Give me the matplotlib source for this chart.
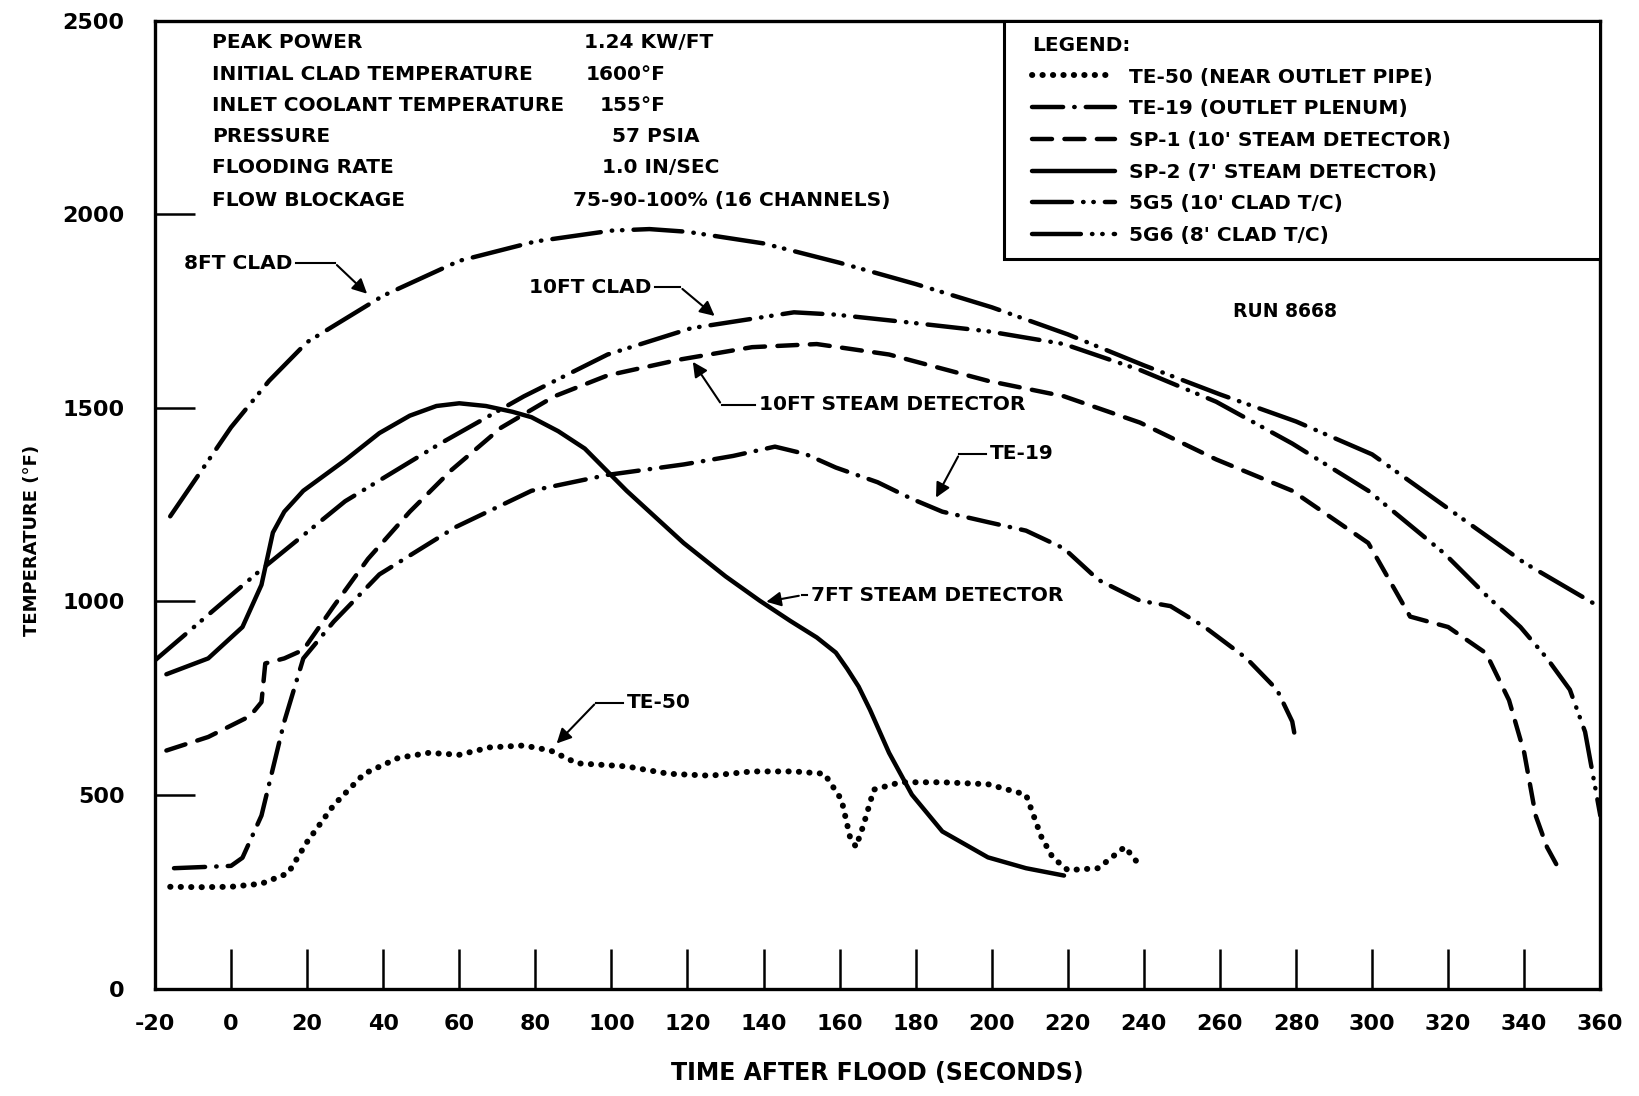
import matplotlib
matplotlib.use("Agg")
import matplotlib.pyplot as plt
from matplotlib.patches import Rectangle

plt.rcParams['font.family'] = ['DejaVu Sans']
plt.rcParams['font.weight'] = 'bold'
plt.rcParams['axes.unicode_minus'] = False

# ---- data (time s, temperature F) ----
te50_t = [-16, -8, 0, 8, 15, 20, 27, 35, 44, 52, 60, 68, 77, 84, 91, 104, 115, 126, 137, 148, 156, 160.5, 162.7, 164.3, 166.2, 169, 176, 187, 199, 209, 213, 216, 220, 228, 235, 239]
te50_T = [263, 262, 263, 271, 298, 379, 474, 555, 596, 609, 604, 623, 628, 615, 582, 574, 555, 550, 561, 561, 555, 488, 393, 366, 420, 514, 533, 533, 528, 501, 393, 339, 306, 311, 366, 317]

te19_t = [-15, 0, 3, 8, 14, 19, 27, 39, 59, 79, 99, 119, 132, 143, 151, 159, 170, 179, 187, 199, 209, 219, 228, 239, 247, 256, 267, 275, 279, 280]
te19_T = [311, 317, 338, 447, 690, 853, 948, 1070, 1192, 1286, 1327, 1354, 1376, 1400, 1381, 1346, 1308, 1265, 1232, 1205, 1183, 1137, 1056, 1002, 988, 934, 853, 772, 690, 636]

sp1_t = [-17, -6, 5, 8, 9, 14, 19, 27, 36, 47, 58, 71, 85, 99, 118, 137, 154, 173, 199, 219, 239, 259, 279, 299, 310, 320, 330, 336, 340, 343, 346, 349]
sp1_T = [615, 650, 704, 740, 840, 853, 875, 988, 1110, 1232, 1340, 1449, 1530, 1584, 1625, 1657, 1665, 1638, 1570, 1530, 1462, 1367, 1286, 1151, 961, 934, 866, 745, 609, 447, 365, 311]

sp2_t = [-17, -6, 3, 8, 11, 14, 19, 30, 39, 47, 54, 60, 67, 74, 79, 86, 93, 104, 119, 130, 139, 147, 154, 159, 162, 165, 168, 173, 179, 187, 199, 209, 219]
sp2_T = [812, 853, 934, 1043, 1178, 1232, 1286, 1365, 1435, 1480, 1505, 1512, 1505, 1490, 1476, 1440, 1395, 1286, 1151, 1065, 1002, 950, 907, 868, 826, 780, 720, 609, 501, 406, 339, 311, 292]

g5_t = [-20, 8, 30, 55, 77, 99, 121, 148, 159, 179, 199, 219, 239, 259, 279, 299, 319, 330, 339, 346, 352, 356, 358, 360]
g5_T = [848, 1083, 1259, 1408, 1530, 1638, 1706, 1747, 1741, 1720, 1698, 1665, 1598, 1516, 1408, 1286, 1124, 1016, 934, 853, 772, 663, 555, 447]

g6_t = [-16, 0, 10, 20, 40, 60, 80, 100, 110, 120, 140, 160, 180, 200, 220, 240, 260, 280, 300, 320, 340, 360]
g6_T = [1220, 1450, 1570, 1670, 1790, 1880, 1930, 1958, 1962, 1955, 1925, 1875, 1820, 1760, 1690, 1610, 1535, 1465, 1380, 1240, 1100, 985]

labels = ["TE-50 (NEAR OUTLET PIPE)", "TE-19 (OUTLET PLENUM)", "SP-1 (10' STEAM DETECTOR)",
          "SP-2 (7' STEAM DETECTOR)", "5G5 (10' CLAD T/C)", "5G6 (8' CLAD T/C)"]

info_names = ["PEAK POWER", "INITIAL CLAD TEMPERATURE", "INLET COOLANT TEMPERATURE",
              "PRESSURE", "FLOODING RATE", "FLOW BLOCKAGE"]
info_vals = ["1.24 KW/FT", "1600°F", "155°F", "57 PSIA", "1.0 IN/SEC", "75-90-100% (16 CHANNELS)"]
info_vx = [92.8, 93.3, 96.9, 100.2, 97.5, 89.8]
info_y = [2443, 2362, 2280, 2202, 2120, 2036]

fs = 14.5

fig = plt.figure(figsize=(16.4, 10.96), dpi=100)
ax = fig.add_subplot(111)
fig.subplots_adjust(left=0.0945, right=0.9758, top=0.981, bottom=0.098)

lw = 3.2
ax.plot(te50_t, te50_T, color='black', lw=4.3, linestyle=(0, (0.05, 1.7)), dash_capstyle='round', label=labels[0])
ax.plot(te19_t, te19_T, color='black', lw=lw, linestyle=(0, (7, 2.5, 0.1, 2.5)), dash_capstyle='round', label=labels[1])
ax.plot(sp1_t, sp1_T, color='black', lw=lw, linestyle=(0, (4.5, 2.8)), dash_capstyle='round', label=labels[2])
ax.plot(sp2_t, sp2_T, color='black', lw=lw, solid_capstyle='round', solid_joinstyle='round', label=labels[3])
ax.plot(g5_t, g5_T, color='black', lw=lw, linestyle=(0, (9, 2.5, 0.1, 2.2, 0.1, 2.5)), dash_capstyle='round', label=labels[4])
ax.plot(g6_t, g6_T, color='black', lw=lw, linestyle=(0, (11, 2.5, 0.1, 2.2, 0.1, 2.5)), dash_capstyle='round', label=labels[5])

ax.set_xlim(-20, 360)
ax.set_ylim(0, 2500)
ax.set_xticks(range(-20, 361, 20))
ax.set_yticks(range(0, 2501, 500))
ax.tick_params(axis='both', direction='in', length=29, width=1.8, labelsize=16)
ax.tick_params(axis='y', pad=22)
ax.tick_params(axis='x', pad=18)
for s in ax.spines.values():
    s.set_linewidth(2.4)

ax.set_xlabel("TIME AFTER FLOOD (SECONDS)", fontsize=17, fontweight='bold', labelpad=20)
ax.set_ylabel("TEMPERATURE (°F)", fontsize=13, fontweight='bold')
ax.yaxis.set_label_coords(-0.079, 0.463)

# info block
for nm, v, vx, yy in zip(info_names, info_vals, info_vx, info_y):
    ax.text(-5, yy, nm, fontsize=fs, va='center', ha='left')
    ax.text(vx, yy, v, fontsize=fs, va='center', ha='left')

# legend box (top/right edges on the spines)
ax.add_patch(Rectangle((0.5876, 0.7535), 0.4124, 0.2465, transform=ax.transAxes,
                       facecolor='white', edgecolor='black', lw=2.2, zorder=4))
leg = ax.legend(loc='upper left', bbox_to_anchor=(0.607, 0.9845), borderaxespad=0, borderpad=0,
                title="LEGEND:", fontsize=fs, title_fontproperties={'size': fs, 'weight': 'bold'},
                alignment='left', handlelength=4.1, handletextpad=0.7, labelspacing=0.63,
                frameon=False)
leg.set_zorder(5)

# callouts
def callout(text, tx, ty, elbow, tip, ha='left'):
    ax.text(tx, ty, text, fontsize=fs, va='center', ha=ha)
    ax.plot([tx + (-1 if ha == 'left' else 1), elbow[0]], [ty, elbow[1]], color='black', lw=1.5)
    ax.annotate("", xy=tip, xytext=elbow,
                arrowprops=dict(arrowstyle='-|>', color='black', lw=1.5, mutation_scale=22))

callout("8FT CLAD", 16, 1874, (27.3, 1874), (36.3, 1790), ha='right')
callout("10FT CLAD", 110.4, 1812, (118.1, 1812), (127.7, 1733), ha='right')
callout("10FT STEAM DETECTOR", 138.7, 1508, (129, 1508), (121, 1625))
callout("TE-19", 199.5, 1381, (191.5, 1381), (185, 1262))
callout("7FT STEAM DETECTOR", 152.5, 1016, (150, 1016), (140, 998))
callout("TE-50", 104, 739, (96, 739), (85.1, 628))
ax.text(263.4, 1749, "RUN 8668", fontsize=13.5, va='center', ha='left')

fig.savefig("out.png", dpi=100)
